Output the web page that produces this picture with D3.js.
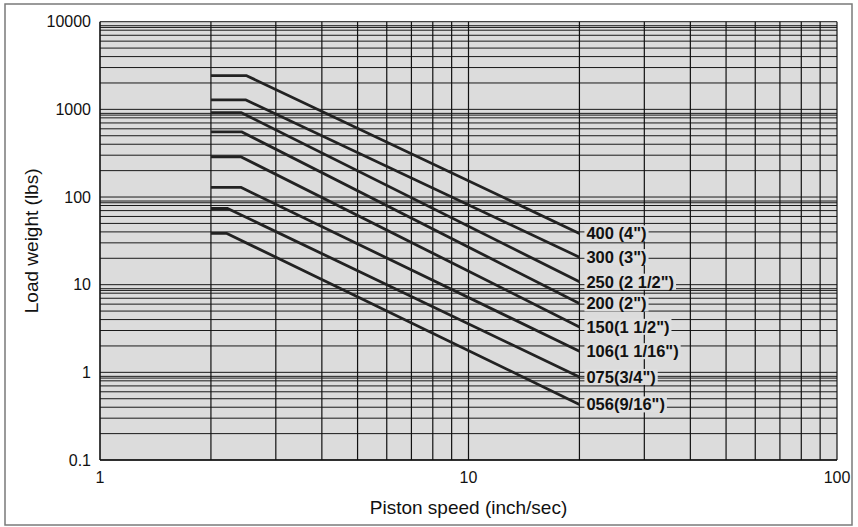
<!DOCTYPE html>
<html>
<head>
<meta charset="utf-8">
<script src="https://cdn.jsdelivr.net/npm/d3@7/dist/d3.min.js"></script>
<style>
  html, body { margin: 0; padding: 0; background: #fff; }
  svg { display: block; font-family: "Liberation Sans", Arial, Helvetica, sans-serif; }
</style>
</head>
<body>
<svg id="chart" width="858" height="527"></svg>
<script>
// ---- Data ----
const seriesNames = ['400 (4")', '300 (3")', '250 (2 1/2")', '200 (2")', '150(1 1/2")', '106(1 1/16")', '075(3/4")', '056(9/16")'];
const startSpeed = [2, 2, 2, 2, 2, 2, 2, 2];
const kneeSpeed = [2.5, 2.49, 2.42, 2.42, 2.41, 2.41, 2.22, 2.21];
const endSpeed = [20, 20, 20, 20, 20, 20, 20, 20];
const maxLoad = [2420, 1280, 915, 555, 288, 129, 74, 38.4];
const endLoad = [38.4, 20.6, 10.8, 6.1, 3.3, 1.74, 0.885, 0.43];

const xTickLabels = [1, 10, 100];
const yTickLabels = [0.1, 1, 10, 100, 1000, 10000];
const xGridMultipliers = [2, 3, 4, 5, 6, 7, 8, 9, 10];
const yGridMultipliers = [1, 2, 3, 4, 5, 6, 7, 8, 8.6, 9];
const xDecades = [1, 10];
const yDecades = [0.1, 1, 10, 100, 1000];

// ---- Layout ----
(function () {
const svg = d3.select('#chart');
const pLeft = 100, pRight = 837, pTop = 21.7, pBottom = 460;

const x = d3.scaleLog().domain([1, 100]).range([pLeft, pRight]);
const y = d3.scaleLog().domain([0.1, 10000]).range([pBottom, pTop]);

// outer border
svg.append('rect').attr('x', 5).attr('y', 4).attr('width', 847).attr('height', 521)
  .attr('fill', '#fff').attr('stroke', '#7a7a7a').attr('stroke-width', 1.5);

// plot background
svg.append('rect').attr('x', pLeft).attr('y', pTop).attr('width', pRight - pLeft).attr('height', pBottom - pTop)
  .attr('fill', '#dcdcdc');

// grid
const xGrid = [];
xDecades.forEach(d => xGridMultipliers.forEach(m => xGrid.push(d * m)));
const yGrid = [];
yDecades.forEach(d => yGridMultipliers.forEach(m => yGrid.push(d * m)));
yGrid.push(10000);

const g = svg.append('g');
g.selectAll('line.hg').data(yGrid).join('line')
  .attr('x1', pLeft).attr('x2', pRight)
  .attr('y1', d => y(d)).attr('y2', d => y(d))
  .attr('stroke', '#1a1a1a').attr('stroke-width', 1);
g.selectAll('line.vg').data(xGrid).join('line')
  .attr('x1', d => x(d)).attr('x2', d => x(d))
  .attr('y1', pTop).attr('y2', pBottom)
  .attr('stroke', '#111').attr('stroke-width', 1.2);

// frame left and bottom
svg.append('line').attr('x1', pLeft).attr('x2', pLeft).attr('y1', pTop).attr('y2', pBottom)
  .attr('stroke', '#111').attr('stroke-width', 1.6);
svg.append('line').attr('x1', pLeft).attr('x2', pRight).attr('y1', pBottom).attr('y2', pBottom)
  .attr('stroke', '#111').attr('stroke-width', 1.6);

// series
const series = seriesNames.map((name, i) => ({
  name,
  pts: [[startSpeed[i], maxLoad[i]], [kneeSpeed[i], maxLoad[i]], [endSpeed[i], endLoad[i]]]
}));
const line = d3.line().x(d => x(d[0])).y(d => y(d[1]));

svg.append('g').selectAll('path').data(series).join('path')
  .attr('d', d => line(d.pts))
  .attr('fill', 'none').attr('stroke', '#222').attr('stroke-width', 2.8)
  .attr('stroke-linejoin', 'round');

// labels with background
const lg = svg.append('g');
series.forEach(s => {
  const last = s.pts[s.pts.length - 1];
  const gx = x(last[0]) + 7, gy = y(last[1]);
  const grp = lg.append('g');
  const t = grp.append('text').attr('x', gx).attr('y', gy).attr('dy', '0.36em')
    .attr('font-size', 16.5).attr('font-weight', 'bold').attr('fill', '#111').text(s.name);
  const bb = t.node().getBBox();
  grp.insert('rect', 'text').attr('x', bb.x - 2).attr('y', bb.y + 1)
    .attr('width', bb.width + 4).attr('height', bb.height - 2).attr('fill', '#dedede');
});

// tick labels
svg.append('g').selectAll('text').data(yTickLabels).join('text')
  .attr('x', 91).attr('y', d => y(d)).attr('dy', '0.36em')
  .attr('text-anchor', 'end').attr('font-size', 16).attr('fill', '#111')
  .text(d => String(d));
svg.append('g').selectAll('text').data(xTickLabels).join('text')
  .attr('x', d => x(d)).attr('y', 483)
  .attr('text-anchor', 'middle').attr('font-size', 16).attr('fill', '#111')
  .text(d => String(d));

// axis titles
svg.append('text').attr('x', (pLeft + pRight) / 2).attr('y', 514)
  .attr('text-anchor', 'middle').attr('font-size', 19).attr('fill', '#111')
  .text('Piston speed (inch/sec)');
svg.append('text').attr('transform', `translate(38, ${(pTop + pBottom) / 2}) rotate(-90)`)
  .attr('text-anchor', 'middle').attr('font-size', 19).attr('fill', '#111')
  .text('Load weight (lbs)');
})();
</script>
</body>
</html>
